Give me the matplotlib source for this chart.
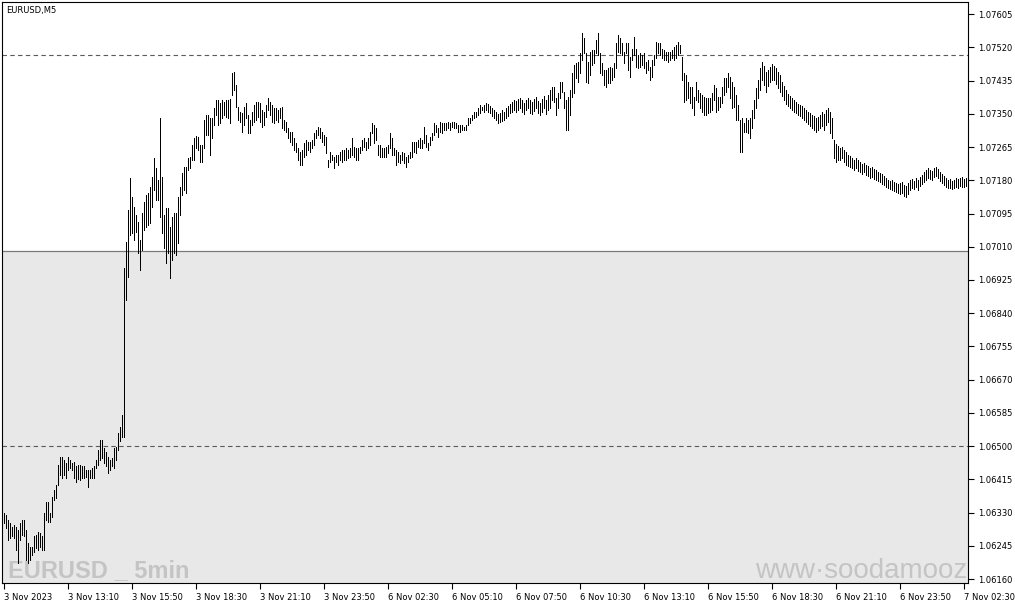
import numpy as np
import matplotlib
matplotlib.use("Agg")
import matplotlib.pyplot as plt

# ---------------- data (EURUSD M5 bar highs / lows) ----------------
highs = [
    1.06328, 1.06324, 1.06311, 1.06303, 1.06294, 1.06298, 1.06294, 1.06286, 1.06303, 1.06311,
    1.06311, 1.06286, 1.06252, 1.06243, 1.06243, 1.06269, 1.06273, 1.06281, 1.06277, 1.06269,
    1.06328, 1.06358, 1.06358, 1.06328, 1.06371, 1.06388, 1.06401, 1.06452, 1.06473, 1.06473,
    1.06465, 1.06456, 1.06473, 1.06465, 1.06456, 1.06460, 1.06448, 1.06452, 1.06452, 1.06449,
    1.06448, 1.06439, 1.06439, 1.06439, 1.06444, 1.06448, 1.06465, 1.06490, 1.06516, 1.06516,
    1.06495, 1.06486, 1.06473, 1.06465, 1.06469, 1.06495, 1.06499, 1.06533, 1.06550, 1.06580,
    1.06955, 1.07023, 1.07104, 1.07185, 1.07138, 1.07112, 1.07091, 1.07074, 1.07027, 1.07096,
    1.07125, 1.07142, 1.07147, 1.07164, 1.07189, 1.07236, 1.07211, 1.07181, 1.07339, 1.07189,
    1.07091, 1.07108, 1.07108, 1.07061, 1.07087, 1.07096, 1.07096, 1.07138, 1.07164, 1.07198,
    1.07215, 1.07215, 1.07236, 1.07240, 1.07270, 1.07287, 1.07293, 1.07291, 1.07270, 1.07270,
    1.07334, 1.07347, 1.07347, 1.07339, 1.07339, 1.07364, 1.07385, 1.07385, 1.07377, 1.07385,
    1.07381, 1.07385, 1.07385, 1.07387, 1.07454, 1.07458, 1.07424, 1.07368, 1.07355, 1.07352,
    1.07368, 1.07377, 1.07347, 1.07334, 1.07355, 1.07373, 1.07381, 1.07381, 1.07377, 1.07360,
    1.07355, 1.07373, 1.07390, 1.07381, 1.07373, 1.07364, 1.07364, 1.07360, 1.07364, 1.07368,
    1.07334, 1.07330, 1.07313, 1.07304, 1.07304, 1.07287, 1.07275, 1.07262, 1.07253, 1.07257,
    1.07275, 1.07283, 1.07279, 1.07279, 1.07283, 1.07300, 1.07309, 1.07317, 1.07313, 1.07304,
    1.07296, 1.07291, 1.07232, 1.07253, 1.07245, 1.07240, 1.07245, 1.07245, 1.07253, 1.07257,
    1.07257, 1.07262, 1.07257, 1.07262, 1.07287, 1.07266, 1.07262, 1.07262, 1.07266, 1.07283,
    1.07287, 1.07279, 1.07287, 1.07304, 1.07326, 1.07321, 1.07313, 1.07270, 1.07270, 1.07262,
    1.07262, 1.07266, 1.07270, 1.07300, 1.07287, 1.07262, 1.07257, 1.07253, 1.07245, 1.07253,
    1.07249, 1.07240, 1.07245, 1.07253, 1.07279, 1.07279, 1.07279, 1.07283, 1.07287, 1.07283,
    1.07317, 1.07296, 1.07275, 1.07291, 1.07300, 1.07326, 1.07321, 1.07313, 1.07330, 1.07326,
    1.07326, 1.07326, 1.07330, 1.07326, 1.07330, 1.07330, 1.07326, 1.07321, 1.07321, 1.07321,
    1.07317, 1.07321, 1.07339, 1.07339, 1.07347, 1.07355, 1.07355, 1.07364, 1.07373, 1.07368,
    1.07373, 1.07378, 1.07375, 1.07370, 1.07365, 1.07360, 1.07355, 1.07350, 1.07352, 1.07360,
    1.07355, 1.07365, 1.07370, 1.07375, 1.07380, 1.07385, 1.07383, 1.07388, 1.07390, 1.07385,
    1.07378, 1.07385, 1.07390, 1.07385, 1.07380, 1.07388, 1.07393, 1.07383, 1.07378, 1.07388,
    1.07396, 1.07385, 1.07398, 1.07411, 1.07419, 1.07419, 1.07390, 1.07402, 1.07432, 1.07432,
    1.07406, 1.07385, 1.07394, 1.07411, 1.07454, 1.07475, 1.07479, 1.07483, 1.07505, 1.07556,
    1.07543, 1.07505, 1.07483, 1.07509, 1.07513, 1.07513, 1.07539, 1.07556, 1.07505, 1.07479,
    1.07462, 1.07462, 1.07466, 1.07470, 1.07466, 1.07479, 1.07530, 1.07551, 1.07543, 1.07530,
    1.07509, 1.07530, 1.07530, 1.07496, 1.07517, 1.07547, 1.07517, 1.07500, 1.07505, 1.07500,
    1.07505, 1.07483, 1.07488, 1.07470, 1.07488, 1.07500, 1.07534, 1.07530, 1.07530, 1.07517,
    1.07513, 1.07509, 1.07509, 1.07509, 1.07513, 1.07522, 1.07526, 1.07534, 1.07526, 1.07496,
    1.07454, 1.07449, 1.07432, 1.07419, 1.07419, 1.07394, 1.07432, 1.07411, 1.07402, 1.07398,
    1.07394, 1.07390, 1.07390, 1.07390, 1.07402, 1.07424, 1.07415, 1.07394, 1.07394, 1.07419,
    1.07441, 1.07441, 1.07454, 1.07445, 1.07432, 1.07419, 1.07398, 1.07373, 1.07334, 1.07339,
    1.07326, 1.07339, 1.07334, 1.07339, 1.07360, 1.07385, 1.07416, 1.07436, 1.07467, 1.07482,
    1.07472, 1.07457, 1.07462, 1.07470, 1.07477, 1.07472, 1.07467, 1.07457, 1.07449, 1.07431,
    1.07421, 1.07411, 1.07401, 1.07396, 1.07390, 1.07385, 1.07380, 1.07375, 1.07373, 1.07370,
    1.07365, 1.07360, 1.07355, 1.07352, 1.07347, 1.07344, 1.07339, 1.07342, 1.07347, 1.07355,
    1.07350, 1.07360, 1.07365, 1.07355, 1.07339, 1.07283, 1.07273, 1.07268, 1.07263, 1.07265,
    1.07257, 1.07252, 1.07245, 1.07242, 1.07237, 1.07232, 1.07237, 1.07232, 1.07227, 1.07222,
    1.07224, 1.07219, 1.07217, 1.07211, 1.07214, 1.07209, 1.07206, 1.07201, 1.07199, 1.07196,
    1.07191, 1.07186, 1.07181, 1.07178, 1.07181, 1.07176, 1.07173, 1.07170, 1.07173, 1.07176,
    1.07168, 1.07165, 1.07173, 1.07181, 1.07183, 1.07178, 1.07186, 1.07181, 1.07188, 1.07193,
    1.07201, 1.07206, 1.07211, 1.07206, 1.07204, 1.07211, 1.07214, 1.07209, 1.07201, 1.07196,
    1.07191, 1.07186, 1.07181, 1.07183, 1.07178, 1.07181, 1.07186, 1.07183, 1.07186, 1.07188,
    1.07183, 1.07186, 1.07181,
]

lows = [
    1.06303, 1.06290, 1.06260, 1.06264, 1.06269, 1.06264, 1.06234, 1.06200, 1.06260, 1.06273,
    1.06269, 1.06209, 1.06200, 1.06209, 1.06222, 1.06230, 1.06239, 1.06234, 1.06243, 1.06234,
    1.06234, 1.06311, 1.06307, 1.06307, 1.06320, 1.06362, 1.06367, 1.06401, 1.06426, 1.06418,
    1.06426, 1.06418, 1.06439, 1.06444, 1.06439, 1.06418, 1.06409, 1.06415, 1.06414, 1.06418,
    1.06418, 1.06422, 1.06396, 1.06418, 1.06418, 1.06418, 1.06444, 1.06452, 1.06465, 1.06469,
    1.06456, 1.06448, 1.06431, 1.06439, 1.06448, 1.06444, 1.06465, 1.06490, 1.06512, 1.06524,
    1.06524, 1.06874, 1.06933, 1.07040, 1.07044, 1.07027, 1.07049, 1.06993, 1.06951, 1.07002,
    1.07053, 1.07061, 1.07066, 1.07070, 1.07112, 1.07155, 1.07130, 1.07130, 1.07087, 1.07044,
    1.07006, 1.06968, 1.06993, 1.06929, 1.06976, 1.06993, 1.06989, 1.07019, 1.07091, 1.07142,
    1.07155, 1.07147, 1.07206, 1.07211, 1.07232, 1.07232, 1.07262, 1.07257, 1.07227, 1.07227,
    1.07262, 1.07296, 1.07296, 1.07245, 1.07287, 1.07321, 1.07347, 1.07321, 1.07326, 1.07339,
    1.07347, 1.07343, 1.07339, 1.07326, 1.07398, 1.07411, 1.07368, 1.07334, 1.07330, 1.07303,
    1.07321, 1.07339, 1.07300, 1.07300, 1.07321, 1.07330, 1.07334, 1.07343, 1.07330, 1.07317,
    1.07321, 1.07343, 1.07360, 1.07347, 1.07330, 1.07326, 1.07334, 1.07330, 1.07339, 1.07313,
    1.07309, 1.07304, 1.07287, 1.07279, 1.07270, 1.07257, 1.07253, 1.07232, 1.07219, 1.07219,
    1.07240, 1.07245, 1.07257, 1.07253, 1.07262, 1.07270, 1.07287, 1.07296, 1.07287, 1.07279,
    1.07270, 1.07249, 1.07215, 1.07227, 1.07232, 1.07211, 1.07227, 1.07219, 1.07232, 1.07227,
    1.07232, 1.07232, 1.07236, 1.07240, 1.07245, 1.07240, 1.07232, 1.07232, 1.07249, 1.07257,
    1.07265, 1.07257, 1.07262, 1.07270, 1.07300, 1.07275, 1.07283, 1.07245, 1.07240, 1.07240,
    1.07240, 1.07240, 1.07249, 1.07262, 1.07245, 1.07245, 1.07219, 1.07227, 1.07223, 1.07232,
    1.07223, 1.07215, 1.07227, 1.07236, 1.07240, 1.07253, 1.07249, 1.07266, 1.07262, 1.07262,
    1.07275, 1.07266, 1.07257, 1.07270, 1.07283, 1.07296, 1.07304, 1.07291, 1.07304, 1.07300,
    1.07309, 1.07309, 1.07313, 1.07309, 1.07317, 1.07313, 1.07313, 1.07304, 1.07304, 1.07309,
    1.07309, 1.07309, 1.07321, 1.07326, 1.07334, 1.07339, 1.07343, 1.07347, 1.07351, 1.07360,
    1.07355, 1.07360, 1.07355, 1.07352, 1.07344, 1.07339, 1.07334, 1.07326, 1.07329, 1.07332,
    1.07334, 1.07339, 1.07344, 1.07352, 1.07355, 1.07360, 1.07355, 1.07360, 1.07365, 1.07355,
    1.07350, 1.07360, 1.07365, 1.07352, 1.07350, 1.07357, 1.07365, 1.07352, 1.07347, 1.07355,
    1.07365, 1.07350, 1.07360, 1.07365, 1.07385, 1.07381, 1.07347, 1.07364, 1.07390, 1.07406,
    1.07364, 1.07309, 1.07309, 1.07347, 1.07394, 1.07402, 1.07441, 1.07432, 1.07454, 1.07488,
    1.07505, 1.07432, 1.07428, 1.07449, 1.07475, 1.07479, 1.07505, 1.07500, 1.07454, 1.07449,
    1.07424, 1.07419, 1.07428, 1.07428, 1.07436, 1.07445, 1.07466, 1.07509, 1.07505, 1.07500,
    1.07479, 1.07505, 1.07462, 1.07445, 1.07488, 1.07500, 1.07470, 1.07466, 1.07470, 1.07475,
    1.07466, 1.07454, 1.07462, 1.07436, 1.07445, 1.07475, 1.07492, 1.07505, 1.07500, 1.07492,
    1.07488, 1.07488, 1.07483, 1.07488, 1.07492, 1.07488, 1.07492, 1.07500, 1.07505, 1.07436,
    1.07381, 1.07385, 1.07390, 1.07377, 1.07364, 1.07347, 1.07385, 1.07381, 1.07364, 1.07355,
    1.07347, 1.07347, 1.07351, 1.07355, 1.07360, 1.07385, 1.07355, 1.07360, 1.07368, 1.07377,
    1.07398, 1.07406, 1.07419, 1.07390, 1.07364, 1.07368, 1.07334, 1.07334, 1.07253, 1.07253,
    1.07304, 1.07304, 1.07300, 1.07287, 1.07314, 1.07339, 1.07365, 1.07390, 1.07411, 1.07436,
    1.07424, 1.07406, 1.07421, 1.07431, 1.07436, 1.07436, 1.07426, 1.07416, 1.07406, 1.07396,
    1.07385, 1.07375, 1.07370, 1.07365, 1.07360, 1.07355, 1.07352, 1.07347, 1.07344, 1.07339,
    1.07334, 1.07329, 1.07324, 1.07319, 1.07314, 1.07309, 1.07303, 1.07309, 1.07314, 1.07319,
    1.07309, 1.07321, 1.07329, 1.07301, 1.07288, 1.07237, 1.07227, 1.07232, 1.07232, 1.07237,
    1.07227, 1.07219, 1.07217, 1.07214, 1.07211, 1.07206, 1.07211, 1.07204, 1.07201, 1.07196,
    1.07201, 1.07193, 1.07191, 1.07186, 1.07188, 1.07183, 1.07181, 1.07178, 1.07176, 1.07170,
    1.07168, 1.07163, 1.07160, 1.07158, 1.07155, 1.07153, 1.07150, 1.07147, 1.07145, 1.07147,
    1.07140, 1.07137, 1.07145, 1.07155, 1.07160, 1.07158, 1.07163, 1.07155, 1.07165, 1.07170,
    1.07176, 1.07181, 1.07186, 1.07183, 1.07181, 1.07188, 1.07191, 1.07186, 1.07178, 1.07173,
    1.07168, 1.07163, 1.07160, 1.07160, 1.07158, 1.07160, 1.07163, 1.07160, 1.07165, 1.07163,
    1.07163, 1.07165, 1.07160,
]

x_labels = ["3 Nov 2023", "3 Nov 13:10", "3 Nov 15:50", "3 Nov 18:30", "3 Nov 21:10",
            "3 Nov 23:50", "6 Nov 02:30", "6 Nov 05:10", "6 Nov 07:50", "6 Nov 10:30",
            "6 Nov 13:10", "6 Nov 15:50", "6 Nov 18:30", "6 Nov 21:10", "6 Nov 23:50",
            "7 Nov 02:30"]
bars_per_label = 32
y_ticks = [1.07605, 1.07520, 1.07435, 1.07350, 1.07265, 1.07180, 1.07095, 1.07010,
           1.06925, 1.06840, 1.06755, 1.06670, 1.06585, 1.06500, 1.06415, 1.06330,
           1.06245, 1.06160]
zone_level = 1.07000
dashed_levels = [1.07500, 1.06500]
title_text = "EURUSD,M5"
wm_left = "EURUSD _ 5min"
wm_right = "www·soodamooz.com"

# ---------------- figure ----------------
W, H = 1015, 605
fig = plt.figure(figsize=(W / 100, H / 100), dpi=100, facecolor="white")
ax_l, ax_r, ax_t, ax_b = 2, 968, 2, 583
ax = fig.add_axes([ax_l / W, 1 - ax_b / H, (ax_r - ax_l) / W, (ax_b - ax_t) / H])
ax.set_facecolor("white")

n = min(len(highs), len(lows))
idx = np.arange(n)
ax.set_xlim(-0.75, -0.75 + (ax_r - ax_l) / 2.0)
ax.set_ylim(1.06150, 1.07636)

# background zone below 1.07000
ax.axhspan(1.0, zone_level, color="#e8e8e8", zorder=0, lw=0)
ax.axhline(zone_level, color="#7a7a7a", lw=0.9, zorder=1)
for lv in dashed_levels:
    ax.axhline(lv, color="#5a5a5a", lw=0.8, ls=(0, (4, 3)), zorder=1)

# watermarks
ax.text((8 - ax_l) / (ax_r - ax_l), (ax_b - 577) / (ax_b - ax_t), wm_left,
        transform=ax.transAxes, ha="left", va="baseline", fontsize=17,
        family=["Liberation Sans", "DejaVu Sans"], weight="bold",
        color="#c4c4c4", zorder=2, clip_on=True)
ax.text((755 - ax_l) / (ax_r - ax_l), (ax_b - 578) / (ax_b - ax_t), wm_right,
        transform=ax.transAxes, ha="left", va="baseline", fontsize=20,
        family=["Liberation Sans", "DejaVu Sans"], color="#c4c4c4",
        zorder=2, clip_on=True)

# bars
ax.vlines(idx, lows[:n], highs[:n], colors="black", linewidth=0.5,
          antialiased=False, zorder=3)

# title label
ax.text((6 - ax_l) / (ax_r - ax_l), (ax_b - 10) / (ax_b - ax_t), title_text,
        transform=ax.transAxes, ha="left", va="center", fontsize=6,
        family="DejaVu Sans", color="black", zorder=4)

# axes styling
for s in ax.spines.values():
    s.set_color("black")
    s.set_linewidth(0.8)

ax.yaxis.tick_right()
ax.set_yticks(y_ticks)
ax.set_yticklabels([f"{v:.5f}" for v in y_ticks], fontsize=6, family="DejaVu Sans")
ax.tick_params(axis="y", direction="out", length=4, width=0.8, pad=3, colors="black")

ax.set_xticks(np.arange(len(x_labels)) * bars_per_label)
ax.set_xticklabels(x_labels, ha="left", fontsize=6, family="DejaVu Sans")
ax.tick_params(axis="x", direction="out", length=4, width=0.8, pad=3, colors="black")

fig.savefig("out.png", dpi=100, facecolor="white")
